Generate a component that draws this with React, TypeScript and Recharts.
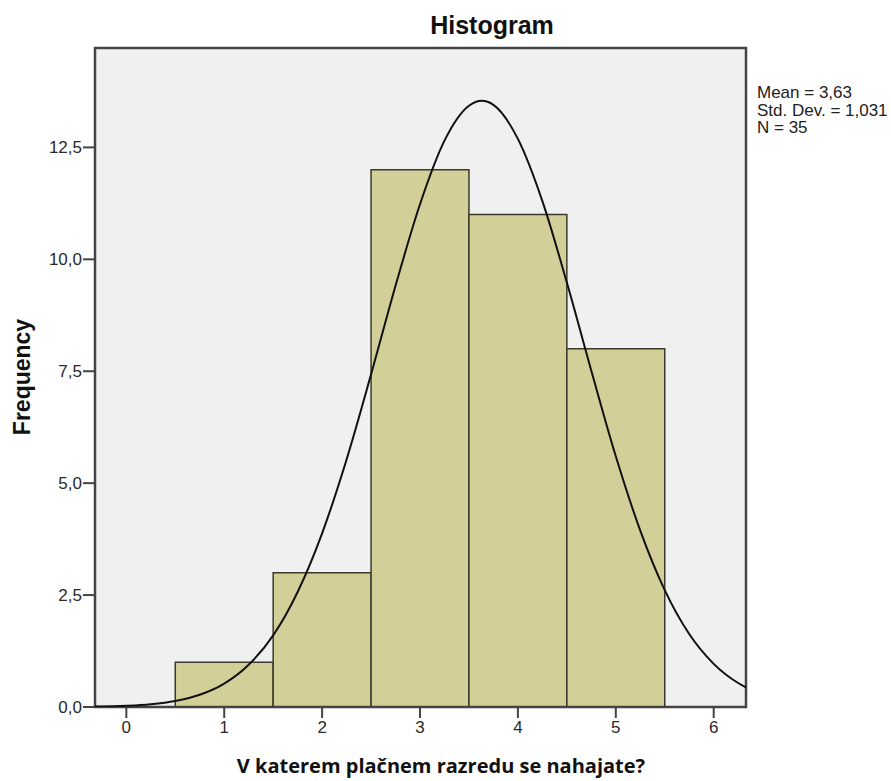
import React from "react";
import {
  ComposedChart,
  Line,
  ReferenceArea,
  XAxis,
  YAxis,
} from "recharts";

// histogram bins (value 1..5, width 1)
const BIN_CENTERS = [1, 2, 3, 4, 5];
const BIN_COUNTS = [1, 3, 12, 11, 8];

// normal curve
const CURVE_X = [
  -0.32, 0, 0.25, 0.5, 0.75, 1, 1.25, 1.5, 1.75, 2, 2.25, 2.5, 2.75, 3, 3.25,
  3.5, 3.63, 3.75, 4, 4.25, 4.5, 4.75, 5, 5.25, 5.5, 5.75, 6, 6.25, 6.33,
];
const CURVE_Y = [
  0.009, 0.028, 0.063, 0.135, 0.273, 0.523, 0.944, 1.6, 2.57, 3.88, 5.53,
  7.43, 9.41, 11.23, 12.65, 13.43, 13.54, 13.45, 12.69, 11.3, 9.48, 7.51, 5.6,
  3.94, 2.61, 1.63, 0.964, 0.536, 0.439,
];

const X_TICKS = [0, 1, 2, 3, 4, 5, 6];
const Y_TICKS = [0, 2.5, 5, 7.5, 10, 12.5];
const STATS = ["Mean = 3,63", "Std. Dev. = 1,031", "N = 35"];

const X_DOMAIN = [-0.32, 6.33];
const Y_DOMAIN = [0, 14.72];

const fmtY = (v: number) => v.toFixed(1).replace(".", ",");

const curveData = CURVE_X.map((x, i) => ({ x, y: CURVE_Y[i] }));

const tickStyle = { fontSize: 17, fill: "#2a2a2a", fontFamily: "Liberation Sans, Arial, sans-serif" };

export default function App() {
  return (
    <div style={{ position: "relative", width: 891, height: 781, background: "#fff" }}>
      <style>{"body{margin:0}"}</style>
      <ComposedChart
        width={891}
        height={781}
        data={curveData}
        margin={{ top: 48, right: 145, bottom: 44, left: 35 }}
      >
        <XAxis
          dataKey="x"
          type="number"
          domain={X_DOMAIN}
          ticks={X_TICKS}
          allowDataOverflow
          height={30}
          tickSize={11}
          tickMargin={3}
          stroke="#444"
          tick={tickStyle}
          tickLine={{ stroke: "#444", strokeWidth: 2 }}
          axisLine={false}
        />
        <YAxis
          type="number"
          domain={Y_DOMAIN}
          ticks={Y_TICKS}
          allowDataOverflow
          width={60}
          tickSize={12}
          tickMargin={1}
          stroke="#444"
          tick={tickStyle}
          tickLine={{ stroke: "#444", strokeWidth: 2 }}
          tickFormatter={fmtY}
          axisLine={false}
        />
        <ReferenceArea
          x1={X_DOMAIN[0]}
          x2={X_DOMAIN[1]}
          y1={Y_DOMAIN[0]}
          y2={Y_DOMAIN[1]}
          fill="#f0f0f0"
          fillOpacity={1}
          stroke="none"
        />
        {BIN_CENTERS.map((c, i) => (
          <ReferenceArea
            key={c}
            x1={c - 0.5}
            x2={c + 0.5}
            y1={0}
            y2={BIN_COUNTS[i]}
            fill="#d3cf98"
            fillOpacity={1}
            stroke="#3a3a2a"
            strokeWidth={1.5}
          />
        ))}
        <Line
          dataKey="y"
          type="monotone"
          stroke="#111"
          strokeWidth={2}
          dot={false}
          isAnimationActive={false}
        />
        <ReferenceArea
          x1={X_DOMAIN[0]}
          x2={X_DOMAIN[1]}
          y1={Y_DOMAIN[0]}
          y2={Y_DOMAIN[1]}
          fill="none"
          stroke="#444"
          strokeWidth={2.5}
        />
      </ComposedChart>

      <div
        style={{
          position: "absolute",
          left: 0,
          width: 984,
          top: 11,
          textAlign: "center",
          fontFamily: "Liberation Sans, Arial, sans-serif",
          fontWeight: 700,
          fontSize: 25,
          color: "#111",
        }}
      >
        Histogram
      </div>

      <div
        style={{
          position: "absolute",
          left: 757,
          top: 84,
          fontFamily: "Liberation Sans, Arial, sans-serif",
          fontSize: 17,
          lineHeight: "17.5px",
          color: "#222",
          whiteSpace: "nowrap",
        }}
      >
        {STATS.map((s) => (
          <div key={s}>{s}</div>
        ))}
      </div>

      <div
        style={{
          position: "absolute",
          left: 22,
          top: 377,
          transform: "translate(-50%, -50%) rotate(-90deg)",
          fontFamily: "Liberation Sans, Arial, sans-serif",
          fontWeight: 700,
          fontSize: 23,
          color: "#111",
          whiteSpace: "nowrap",
        }}
      >
        Frequency
      </div>

      <div
        style={{
          position: "absolute",
          left: 441,
          top: 765,
          transform: "translate(-50%, -50%)",
          fontFamily: "Open Sans, sans-serif",
          fontWeight: 700,
          fontSize: 20,
          color: "#111",
          whiteSpace: "nowrap",
        }}
      >
        V katerem plačnem razredu se nahajate?
      </div>
    </div>
  );
}
